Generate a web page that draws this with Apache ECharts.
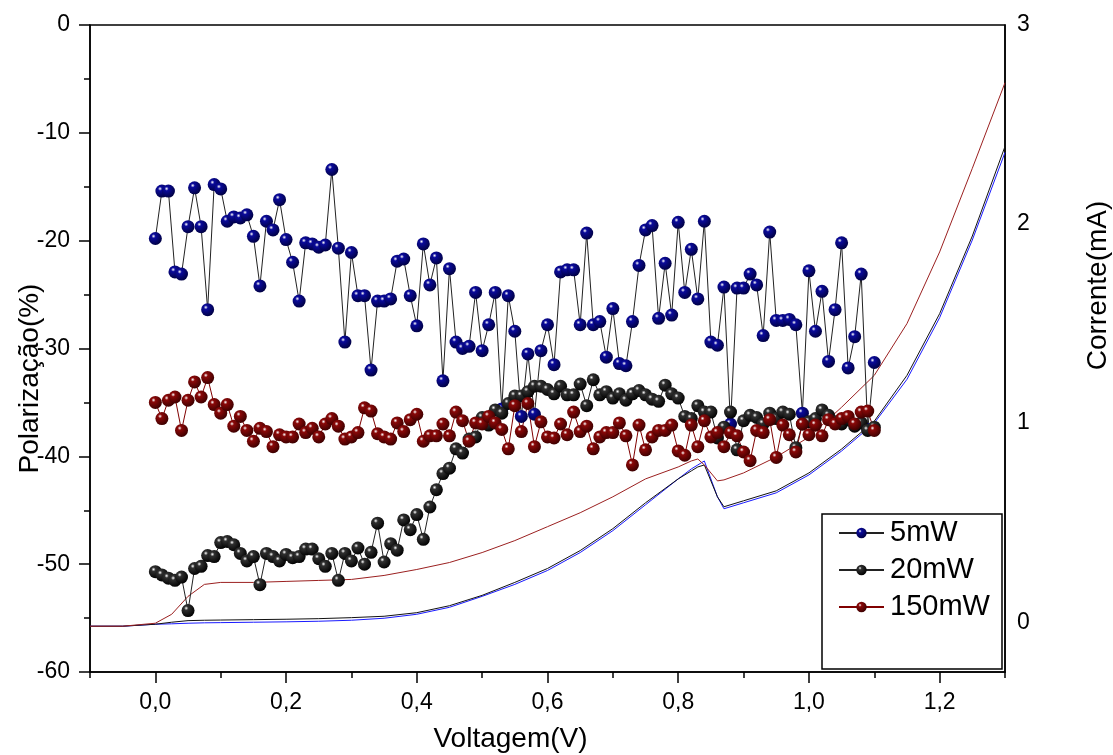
<!DOCTYPE html>
<html>
<head>
<meta charset="utf-8">
<script src="https://cdn.jsdelivr.net/npm/echarts@6/dist/echarts.min.js"></script>
<style>
  html, body { margin: 0; padding: 0; background: #fff; }
  #chart { width: 1113px; height: 755px; }
</style>
</head>
<body>
<div id="chart"></div>
<script>
// Voltage sweep (V) for the polarization measurements
const voltage = [
  0.00, 0.01, 0.02, 0.03, 0.04, 0.05, 0.06, 0.07, 0.08, 0.09,
  0.10, 0.11, 0.12, 0.13, 0.14, 0.15, 0.16, 0.17, 0.18, 0.19,
  0.20, 0.21, 0.22, 0.23, 0.24, 0.25, 0.26, 0.27, 0.28, 0.29,
  0.30, 0.31, 0.32, 0.33, 0.34, 0.35, 0.36, 0.37, 0.38, 0.39,
  0.40, 0.41, 0.42, 0.43, 0.44, 0.45, 0.46, 0.47, 0.48, 0.49,
  0.50, 0.51, 0.52, 0.53, 0.54, 0.55, 0.56, 0.57, 0.58, 0.59,
  0.60, 0.61, 0.62, 0.63, 0.64, 0.65, 0.66, 0.67, 0.68, 0.69,
  0.70, 0.71, 0.72, 0.73, 0.74, 0.75, 0.76, 0.77, 0.78, 0.79,
  0.80, 0.81, 0.82, 0.83, 0.84, 0.85, 0.86, 0.87, 0.88, 0.89,
  0.90, 0.91, 0.92, 0.93, 0.94, 0.95, 0.96, 0.97, 0.98, 0.99,
  1.00, 1.01, 1.02, 1.03, 1.04, 1.05, 1.06, 1.07, 1.08, 1.09,
  1.10
];

// Polarization (%) at 5 mW
const pol5mW = [
  -19.8, -15.4, -15.4, -22.9, -23.1, -18.7, -15.1, -18.7, -26.4, -14.8,
  -15.2, -18.2, -17.8, -17.9, -17.6, -19.6, -24.2, -18.2, -19.0, -16.2,
  -19.9, -22.0, -25.6, -20.2, -20.3, -20.6, -20.4, -13.4, -20.7, -29.4,
  -21.1, -25.1, -25.1, -32.0, -25.6, -25.6, -25.4, -21.9, -21.7, -25.1,
  -27.9, -20.3, -24.1, -21.6, -33.0, -22.6, -29.4, -30.0, -29.8, -24.8,
  -30.2, -27.8, -24.8, -35.6, -25.1, -28.4, -36.3, -30.5, -36.1, -30.2,
  -27.8, -31.5, -22.9, -22.7, -22.7, -27.8, -19.3, -27.8, -27.5, -30.8,
  -26.3, -31.4, -31.6, -27.5, -22.3, -19.0, -18.6, -27.2, -22.1, -26.9,
  -18.3, -24.8, -20.8, -25.4, -18.2, -29.4, -29.7, -24.3, -37.0, -24.4,
  -24.4, -23.1, -24.1, -28.8, -19.2, -27.4, -27.4, -27.3, -27.8, -36.0,
  -22.8, -28.4, -24.7, -31.2, -26.4, -20.2, -31.8, -28.9, -23.1, -37.5,
  -31.3
];

// Polarization (%) at 20 mW
const pol20mW = [
  -50.7, -51.0, -51.3, -51.5, -51.2, -54.3, -50.4, -50.2, -49.2, -49.3,
  -48.0, -47.9, -48.2, -49.0, -49.7, -49.3, -51.9, -49.0, -49.3, -49.7,
  -49.1, -49.4, -49.3, -48.6, -48.6, -49.5, -50.2, -49.0, -51.5, -49.0,
  -49.7, -48.5, -50.0, -48.9, -46.2, -49.8, -48.1, -48.7, -45.9, -46.8,
  -45.4, -47.7, -44.7, -43.1, -41.6, -41.1, -39.3, -39.7, -38.4, -38.2,
  -36.4, -37.1, -35.7, -36.0, -35.1, -34.4, -34.4, -34.0, -33.5, -33.5,
  -33.8, -34.2, -33.5, -34.3, -34.3, -33.3, -35.3, -32.9, -34.3, -34.0,
  -34.6, -34.2, -34.8, -34.2, -33.9, -34.3, -34.7, -34.9, -33.4, -34.2,
  -34.6, -36.3, -36.5, -35.3, -35.9, -35.9, -38.3, -37.3, -35.9, -39.4,
  -36.7, -36.2, -36.4, -37.0, -36.0, -36.5, -35.9, -36.1, -39.2, -37.0,
  -36.8, -36.5, -35.7, -36.2, -36.8, -37.0, -36.6, -37.2, -36.9, -37.6,
  -37.3
];

// Polarization (%) at 150 mW
const pol150mW = [
  -35.0, -36.5, -34.8, -34.5, -37.6, -34.8, -33.1, -34.5, -32.7, -35.2,
  -36.0, -35.2, -37.2, -36.3, -37.6, -38.6, -37.4, -37.7, -39.1, -38.0,
  -38.2, -38.2, -37.0, -37.8, -37.4, -38.2, -37.0, -36.5, -37.2, -38.4,
  -38.2, -37.8, -35.5, -35.8, -37.9, -38.2, -38.4, -36.9, -37.7, -36.6,
  -36.1, -38.6, -38.1, -38.1, -37.0, -38.1, -35.9, -36.7, -38.6, -36.9,
  -37.0, -36.3, -36.9, -37.5, -39.3, -35.3, -37.7, -35.1, -39.1, -36.8,
  -38.2, -38.3, -37.0, -38.0, -35.9, -37.7, -37.2, -39.3, -38.2, -37.8,
  -37.8, -36.9, -38.1, -40.8, -37.1, -39.4, -38.2, -37.6, -37.6, -37.1,
  -39.5, -39.9, -37.1, -39.1, -36.7, -38.2, -37.8, -39.1, -37.8, -38.1,
  -39.6, -40.4, -37.6, -37.8, -36.6, -40.1, -37.1, -38.0, -39.6, -37.0,
  -38.0, -37.1, -38.1, -36.6, -37.0, -36.5, -36.3, -37.0, -35.9, -35.8,
  -37.6
];

// I-V sweep (V) for the current curves
const currentVoltage = [
  -0.10, -0.05, 0.00, 0.025, 0.05, 0.075, 0.10, 0.15, 0.20, 0.25,
  0.30, 0.35, 0.40, 0.45, 0.50, 0.55, 0.60, 0.65, 0.70, 0.75,
  0.80, 0.82, 0.83, 0.84, 0.86, 0.87, 0.90, 0.95, 1.00, 1.05,
  1.10, 1.15, 1.20, 1.25, 1.30
];

// Current (mA) for each pump power
const cur5mW = [
  -0.02, -0.02, -0.01, -0.008, -0.005, -0.003, -0.002, 0.0, 0.002, 0.005,
  0.01, 0.02, 0.04, 0.075, 0.13, 0.19, 0.26, 0.35, 0.46, 0.59,
  0.72, 0.77, 0.79, 0.81, 0.63, 0.57, 0.60, 0.65, 0.74, 0.86,
  1.00, 1.22, 1.53, 1.92, 2.36
];
const cur20mW = [
  -0.02, -0.02, -0.01, 0.0, 0.008, 0.010, 0.011, 0.013, 0.015, 0.018,
  0.023, 0.03, 0.048, 0.083, 0.135, 0.20, 0.27, 0.36, 0.47, 0.60,
  0.72, 0.76, 0.78, 0.79, 0.63, 0.58, 0.61, 0.66, 0.75, 0.87,
  1.01, 1.24, 1.55, 1.94, 2.39
];
const cur150mW = [
  -0.02, -0.02, -0.005, 0.04, 0.13, 0.19, 0.20, 0.20, 0.205, 0.21,
  0.215, 0.235, 0.265, 0.30, 0.35, 0.41, 0.48, 0.55, 0.63, 0.72,
  0.78, 0.81, 0.82, 0.79, 0.71, 0.715, 0.75, 0.83, 0.93, 1.08,
  1.24, 1.50, 1.86, 2.28, 2.71
];

// Axis tick positions and labels
const xMajorTicks = [0.0, 0.2, 0.4, 0.6, 0.8, 1.0, 1.2];
const xMinorTicks = [-0.1, 0.1, 0.3, 0.5, 0.7, 0.9, 1.1, 1.3];
const currentTicks = [0, 1, 2, 3];

const FONT = "'Liberation Sans', Arial, sans-serif";

function pairs(xs, ys) {
  return xs.map((x, i) => [x, ys[i]]);
}

function ball(base, dark) {
  return {
    type: 'radial', x: 0.36, y: 0.32, r: 0.72,
    colorStops: [
      { offset: 0, color: '#ffffff' },
      { offset: 0.22, color: base },
      { offset: 1, color: dark }
    ]
  };
}

function polSeries(name, values, lineColor, base, dark) {
  return {
    name: name,
    type: 'line',
    xAxisIndex: 0,
    yAxisIndex: 0,
    data: pairs(voltage, values),
    symbol: 'circle',
    symbolSize: 13,
    showSymbol: true,
    lineStyle: { color: lineColor, width: 1 },
    itemStyle: { color: ball(base, dark) },
    z: 3
  };
}

function curSeries(values, color) {
  return {
    type: 'line',
    xAxisIndex: 0,
    yAxisIndex: 1,
    data: pairs(currentVoltage, values),
    symbol: 'none',
    lineStyle: { color: color, width: 1 },
    z: 2
  };
}

const axisLineStyle = { color: '#000', width: 1.5 };

const chart = echarts.init(document.getElementById('chart'), null, { renderer: 'canvas' });

chart.setOption({
  animation: false,
  backgroundColor: '#fff',
  textStyle: { fontFamily: FONT },
  grid: {
    left: 90, right: 108, top: 25, bottom: 83,
    containLabel: false, outerBoundsMode: 'none',
    show: true, borderColor: '#000', borderWidth: 1.5
  },
  legend: {
    data: ['5mW', '20mW', '150mW'],
    orient: 'vertical',
    left: 838, top: 518, padding: 0,
    itemWidth: 45, itemHeight: 13, itemGap: 7,
    textStyle: { fontSize: 29, color: '#000', fontFamily: FONT, padding: [0, 0, 0, 1], lineHeight: 30 }
  },
  graphic: [{
    type: 'rect',
    shape: { x: 822, y: 514, width: 180, height: 155 },
    style: { fill: 'none', stroke: '#000', lineWidth: 1.5 },
    z: 10, silent: true
  }],
  xAxis: [{
    type: 'value', min: -0.1, max: 1.3,
    position: 'bottom',
    name: 'Voltagem(V)', nameLocation: 'middle', nameGap: 53, nameMoveOverlap: false,
    nameTextStyle: { fontSize: 28, color: '#000', fontFamily: FONT, padding: [0, 74, 0, 0] },
    axisLine: { onZero: false, lineStyle: axisLineStyle },
    axisTick: { customValues: xMajorTicks, length: 11, lineStyle: axisLineStyle },
    axisLabel: {
      customValues: xMajorTicks, fontSize: 23, color: '#000', margin: 19, fontFamily: FONT,
      formatter: v => v.toFixed(1).replace('.', ',')
    },
    splitLine: { show: false }
  }, {
    type: 'value', min: -0.1, max: 1.3,
    position: 'bottom',
    axisLine: { show: false, onZero: false },
    axisTick: { customValues: xMinorTicks, length: 6, lineStyle: axisLineStyle },
    axisLabel: { show: false },
    splitLine: { show: false }
  }],
  yAxis: [{
    type: 'value', min: -60, max: 0, interval: 10,
    position: 'left',
    name: 'Polarização(%)', nameLocation: 'middle', nameGap: 46, nameRotate: 90,
    nameMoveOverlap: false,
    nameTextStyle: { fontSize: 28, color: '#000', fontFamily: FONT, padding: [0, 60, 0, 0] },
    axisLine: { show: true, onZero: false, lineStyle: axisLineStyle },
    axisTick: { show: true, length: 11, lineStyle: axisLineStyle },
    minorTick: { show: true, splitNumber: 2, length: 6, lineStyle: axisLineStyle },
    axisLabel: { fontSize: 23, color: '#000', margin: 20, fontFamily: FONT },
    splitLine: { show: false }
  }, {
    type: 'value', min: -0.25, max: 3,
    position: 'right',
    name: 'Corrente(mA)', nameLocation: 'middle', nameGap: 79, nameRotate: 90,
    nameMoveOverlap: false,
    nameTextStyle: { fontSize: 28, color: '#000', fontFamily: FONT, padding: [0, 0, 0, 126] },
    axisLine: { show: true, onZero: false, lineStyle: axisLineStyle },
    axisTick: { show: false },
    axisLabel: { customValues: currentTicks, fontSize: 23, color: '#000', margin: 12, fontFamily: FONT },
    splitLine: { show: false }
  }],
  series: [
    curSeries(cur5mW, '#1a1aff'),
    curSeries(cur20mW, '#111111'),
    curSeries(cur150mW, '#9b2020'),
    polSeries('5mW', pol5mW, '#222222', '#0a0a9a', '#000040'),
    polSeries('20mW', pol20mW, '#222222', '#303030', '#000000'),
    polSeries('150mW', pol150mW, '#800000', '#8a0808', '#3a0000')
  ]
});
</script>
</body>
</html>
